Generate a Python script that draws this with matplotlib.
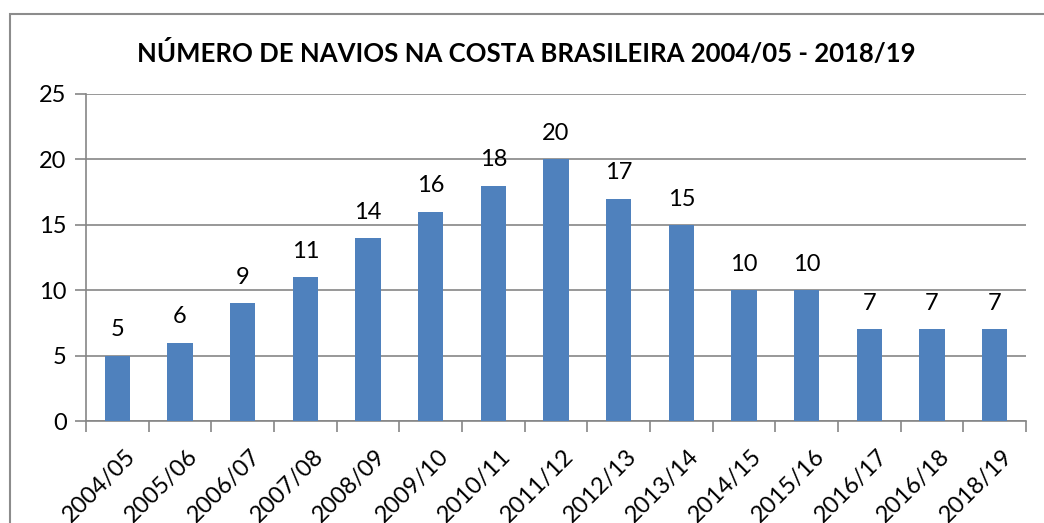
import matplotlib
matplotlib.use("Agg")
import matplotlib.pyplot as plt
import matplotlib.patches as mpatches
import matplotlib.transforms as mtransforms
import numpy as np

# Número de navios na costa brasileira por temporada
temporadas = ["2004/05", "2005/06", "2006/07", "2007/08", "2008/09", "2009/10",
              "2010/11", "2011/12", "2012/13", "2013/14", "2014/15", "2015/16",
              "2016/17", "2016/18", "2018/19"]
navios = [5, 6, 9, 11, 14, 16, 18, 20, 17, 15, 10, 10, 7, 7, 7]

TITLE = "NÚMERO DE NAVIOS NA COSTA BRASILEIRA 2004/05 - 2018/19"
BAR_COLOR = "#4F81BD"
GRID_COLOR = "#868686"
FS = 17

plt.rcParams["font.family"] = ["Lato", "DejaVu Sans"]

fig = plt.figure(figsize=(10.44, 5.23), dpi=100)
ax = fig.add_axes([86 / 1044, 1 - 421 / 523, 940 / 1044, 327 / 523])

x = np.arange(len(temporadas))
bars = ax.bar(x, navios, width=0.4, color=BAR_COLOR, zorder=3)
ax.bar_label(bars, labels=[str(v) for v in navios], padding=11, fontsize=FS)

ax.set_xlim(-0.5, len(temporadas) - 0.5)
ax.set_ylim(0, 25)
ax.set_yticks(range(0, 26, 5))
ax.yaxis.grid(True, color=GRID_COLOR, linewidth=1.2, zorder=0)

for side in ("top", "right"):
    ax.spines[side].set_visible(False)
for side in ("left", "bottom"):
    ax.spines[side].set_color(GRID_COLOR)
    ax.spines[side].set_linewidth(1.2)

# category labels at centres, tick marks between categories (Excel style)
ax.set_xticks(x)
ax.set_xticklabels(temporadas, rotation=45, ha="right", va="top",
                   rotation_mode="anchor", fontsize=FS)
ax.tick_params(axis="x", which="major", length=0, pad=18)
ax.set_xticks(np.arange(-0.5, len(temporadas), 1.0), minor=True)
ax.tick_params(axis="x", which="minor", length=8, width=1.2, color=GRID_COLOR)
ax.tick_params(axis="y", length=8, width=1.2, color=GRID_COLOR,
               labelsize=FS, pad=6)

offset = mtransforms.ScaledTranslation(7 / 100, 0, fig.dpi_scale_trans)
for lbl in ax.get_xticklabels():
    lbl.set_transform(lbl.get_transform() + offset)

fig.text(526 / 1044, 1 - 53 / 523, TITLE, ha="center", va="center",
         fontsize=18.5, fontweight="bold")

# outer chart border (cut by the image edge on the right and bottom)
border = mpatches.Rectangle((10 / 1044, -0.05), 1.1, 1 - 14 / 523 + 0.05,
                            transform=fig.transFigure, fill=False,
                            edgecolor="#8C8C8C", linewidth=1.5, clip_on=False)
fig.patches.append(border)

fig.savefig("out.png", dpi=100)
